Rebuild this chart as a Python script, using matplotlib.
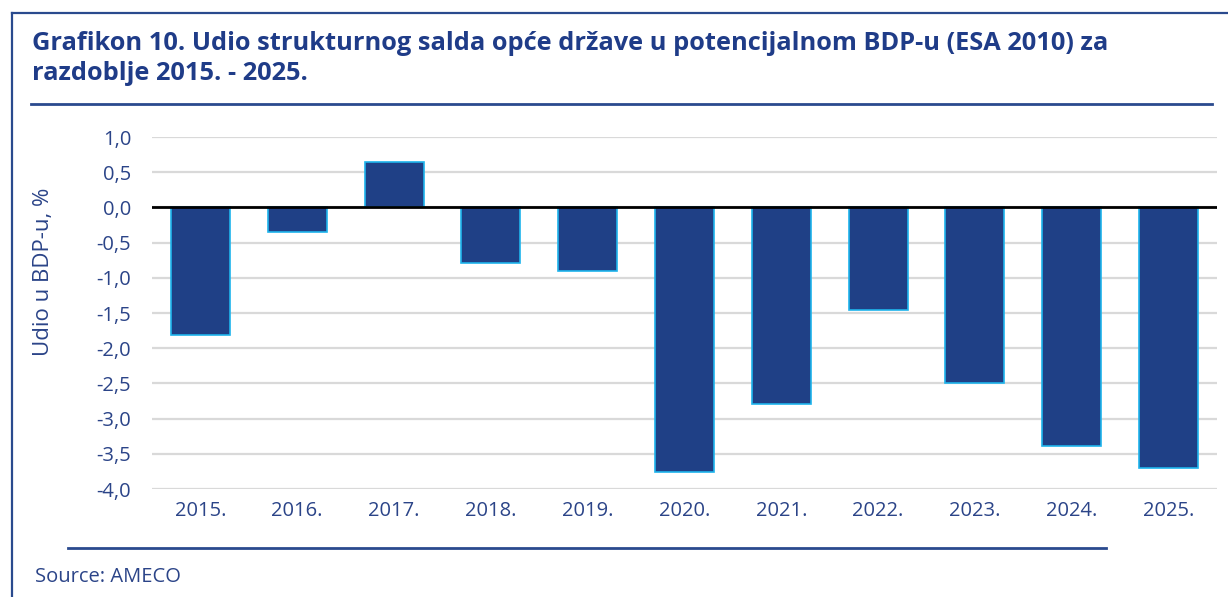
import matplotlib
matplotlib.use("Agg")
import matplotlib.pyplot as plt
from matplotlib.lines import Line2D
import numpy as np

years = ["2015.", "2016.", "2017.", "2018.", "2019.", "2020.",
         "2021.", "2022.", "2023.", "2024.", "2025."]
values = [-1.81, -0.35, 0.65, -0.79, -0.90, -3.76,
          -2.79, -1.46, -2.50, -3.39, -3.70]
ytick_vals = [1.0, 0.5, 0.0, -0.5, -1.0, -1.5, -2.0, -2.5, -3.0, -3.5, -4.0]
ytick_labels = ["1,0", "0,5", "0,0", "-0,5", "-1,0", "-1,5", "-2,0",
                "-2,5", "-3,0", "-3,5", "-4,0"]

title_line1 = "Grafikon 10. Udio strukturnog salda opće države u potencijalnom BDP-u (ESA 2010) za"
title_line2 = "razdoblje 2015. - 2025."
ylabel = "Udio u BDP-u, %"
source = "Source: AMECO"

W, H = 1228, 597
plt.rcParams['font.family'] = ['Open Sans', 'DejaVu Sans']
text_col = "#2B4488"
title_col = "#1F3C88"
bar_col = "#1F4086"
edge_col = "#1EB4EC"
line_col = "#2A4A8E"

fig = plt.figure(figsize=(W / 100, H / 100), dpi=100)
fig.patch.set_facecolor("white")

def fx(px):
    return px / W

def fy(py):
    return 1 - py / H

# outer frame (left and top)
fig.add_artist(Line2D([fx(12), fx(12)], [fy(13), fy(600)], color=line_col, lw=1.6))
fig.add_artist(Line2D([fx(12), fx(1230)], [fy(13), fy(13)], color=line_col, lw=1.6))
# separator lines
fig.add_artist(Line2D([fx(31), fx(1212)], [fy(104), fy(104)], color=line_col, lw=2.0))
fig.add_artist(Line2D([fx(68), fx(1106)], [fy(548), fy(548)], color=line_col, lw=2.0))

fig.text(fx(32), fy(43), title_line1, color=title_col, fontsize=18.3, fontweight="bold",
         ha="left", va="center")
fig.text(fx(32), fy(73), title_line2, color=title_col, fontsize=18.3, fontweight="bold",
         ha="left", va="center")
fig.text(fx(35), fy(577), source, color=text_col, fontsize=14.5, ha="left", va="center")
fig.text(fx(44), fy(272), ylabel, color=text_col, fontsize=16, rotation=90,
         ha="center", va="center")

ax = fig.add_axes([fx(152), fy(489), fx(1217) - fx(152), fy(137) - fy(489)])
x = np.arange(len(years))
ax.bar(x, values, width=0.61, color=bar_col, edgecolor=edge_col, linewidth=1.2, zorder=3)
ax.set_xlim(-0.5, len(years) - 0.5)
ax.set_ylim(-4.0, 1.0)
ax.set_yticks(ytick_vals)
ax.set_yticklabels(ytick_labels)
ax.set_xticks(x)
ax.set_xticklabels(years)
ax.grid(axis="y", color="#D9D9D9", lw=1.6, zorder=0)
ax.axhline(0, color="black", lw=2.0, zorder=4)
for s in ax.spines.values():
    s.set_visible(False)
ax.tick_params(axis="both", length=0, labelsize=14.5, colors=text_col)
ax.tick_params(axis="y", pad=15)
ax.tick_params(axis="x", pad=9)

fig.savefig("out.png", dpi=100)
